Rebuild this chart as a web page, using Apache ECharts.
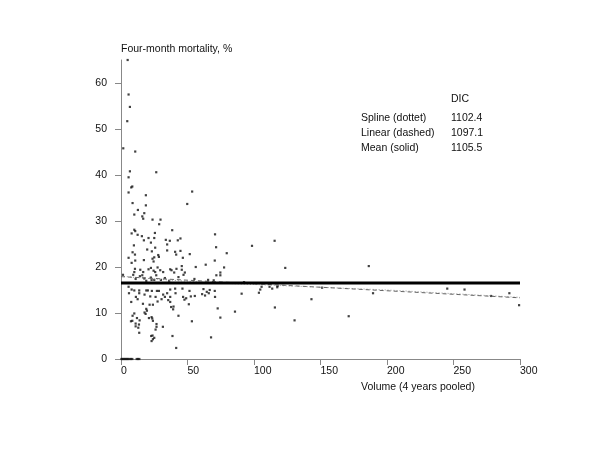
<!DOCTYPE html>
<html>
<head>
<meta charset="utf-8">
<script src="https://cdn.jsdelivr.net/npm/echarts@6/dist/echarts.min.js"></script>
<style>
  html, body { margin: 0; padding: 0; background: #fff; }
  #chart { width: 600px; height: 450px; }
</style>
</head>
<body>
<div id="chart"></div>
<script>
// [volume, mortality %], grouped by area
const pointsHigh = [
  [5, 65.0], [5.7, 57.5], [6.7, 54.8], [4.7, 51.7], [1.7, 45.8], [10.7, 45.1],
  [6.7, 40.8], [26.5, 40.6], [5.7, 39.5], [8.5, 37.5], [7.7, 37.3], [5.7, 36.2],
  [53.5, 36.4], [18.7, 35.6], [49.8, 33.7], [8.7, 33.9], [18.7, 33.4], [12.7, 32.4],
  [17.5, 31.7], [10, 31.4], [16, 31], [16.7, 30.5], [23.7, 30.3], [29.7, 30.3],
  [28.7, 29.3], [38.5, 28], [10, 28.1], [10.7, 27.8], [8, 27.3], [25.5, 27.4],
  [15.7, 26.7], [12.5, 27], [20.7, 26.3], [25, 26.3], [44.7, 26.2], [42.7, 25.8],
  [33.7, 25.9], [36.7, 25.7], [22.5, 25.3], [17.2, 25.8], [9.7, 24.7], [34.7, 24.9],
  [25.7, 24.2], [19.7, 23.8], [23.2, 23.4], [34.7, 23.6], [40.7, 23.3], [41.5, 22.7],
  [8.7, 23.2], [10.5, 22.7], [44.7, 23.5], [51.7, 22.8], [28, 22.6], [28.5, 22.2],
  [25, 22.1], [5.7, 22], [46.5, 22], [23.7, 21.8], [70.7, 27.1], [71.5, 24.3],
  [79.5, 23], [56.2, 20], [63.7, 20.5], [77.5, 19.9], [70.5, 21.4]
];

const pointsMid = [
  [10.7, 21.4], [17.2, 21.5], [24.5, 21.2], [8, 20.9], [10.5, 19.6], [10, 18.9],
  [14.5, 19.4], [16.7, 18.9], [20.7, 19.5], [22.5, 19.8], [24.5, 19.2], [25.7, 18.9],
  [27.5, 19.9], [29.5, 19.3], [31.7, 18.9], [37, 19.5], [38, 19.3], [40, 18.8],
  [41.7, 19.6], [45.7, 19.4], [45.7, 20.2], [48, 18.8], [1.5, 18.3], [9.2, 18.3],
  [14.2, 18], [16, 18.2], [17.5, 17.5], [22.5, 17.7], [25, 17.2], [26.5, 18.2],
  [30, 17.2], [33, 17.6], [36.2, 17], [43.2, 17.8], [47, 18.3], [55.2, 17.4],
  [65.5, 17.2], [11, 17.4], [19, 17], [23, 17.2]
];

const pointsLow = [
  [5.7, 15.7], [8, 15.1], [6, 14.3], [10, 14.9], [13.7, 14.9], [19, 14.9],
  [20.2, 14.9], [23.2, 14.8], [27, 14.8], [28.5, 14.8], [37, 15.1], [40.7, 15.3],
  [46.2, 15.3], [51.5, 14.8], [62, 15.2], [66.7, 15], [66, 14.3], [61, 14.1],
  [55.5, 13.7], [52.5, 13.6], [13.7, 14.3], [11.2, 13.5], [12.5, 13], [17.7, 14],
  [22, 13.6], [26, 13.5], [31.7, 14], [33, 13.5], [34.7, 14.3], [30.5, 13],
  [37, 13.5], [35.5, 12.8], [41, 14.3], [46.7, 13.5], [47.7, 12.9], [49, 13.2],
  [7.7, 12.4], [16.5, 12], [27.5, 12.5], [37, 12.4], [21.5, 11.8], [24, 11.8],
  [51, 11.9], [39.5, 11.4], [19, 10.9], [17.7, 10.1], [37.7, 11.3], [39.2, 10.8],
  [10, 9.9], [18.5, 9.8], [19.5, 10.5], [8.7, 9.4], [43.2, 9.4], [53.3, 8.2],
  [12, 8.9], [21, 8.9], [7.5, 8.2], [8.5, 8.3], [14, 8.4], [23, 9.1],
  [23.5, 8.8], [24, 8.3], [26.7, 7.6], [11, 7.7], [13.5, 7.5], [13, 6.8],
  [26.7, 7], [11, 7.1], [31.5, 7], [26, 6.4], [13.7, 5.7], [23.7, 5.1],
  [22.7, 5], [24, 4.3], [25, 4.6], [23, 3.9], [38.7, 5], [41.5, 2.4], [67.7, 4.7]
];

const pointsRight = [
  [98.5, 24.6], [115.5, 25.7], [123.5, 19.8], [186.3, 20.2], [71.7, 18.2], [74.7, 18.2],
  [74.7, 18.8], [69.7, 17.1], [92.5, 16.7], [64.5, 14.6], [63.2, 13.8], [70.5, 14.8],
  [70.7, 13.5], [72.7, 11], [74.7, 9], [85.7, 10.3], [90.7, 14.2], [103.7, 14.4],
  [104.7, 15.1], [105.7, 15.7], [111.7, 15.7], [113.7, 15.3], [115.7, 11.2], [117.5, 15.6],
  [117.7, 15.9], [130.5, 8.4], [143.2, 13], [151.2, 15.5], [171.2, 9.3], [189.5, 14.3],
  [245.3, 15.3], [258.3, 15.1], [278.3, 13.7], [292, 14.3], [299.3, 11.7]
];

const pointsZero = [
  [0.3, 0], [1, 0], [1.8, 0], [2.5, 0], [3.3, 0], [4, 0], [4.8, 0],
  [5.5, 0], [6.5, 0], [7.5, 0], [8.5, 0], [11.8, 0], [12.8, 0], [13.8, 0]
];

// fitted curves
const lineX = [0, 300];
const meanY = [16.5, 16.5];
const linearY = [17.9, 13.3];
const splineX = [0, 25, 50, 75, 100, 125, 150, 175, 200, 225, 250, 275, 300];
const splineY = [18.0, 17.4, 16.9, 16.5, 16.2, 15.9, 15.6, 15.3, 15.0, 14.6, 14.2, 13.8, 13.4];

const xTicks = [0, 50, 100, 150, 200, 250, 300];
const yTicks = [0, 10, 20, 30, 40, 50, 60];

const legendRows = ['Spline (dottet)', 'Linear (dashed)', 'Mean (solid)'];
const dicValues = ['1102.4', '1097.1', '1105.5'];

const font = '"Liberation Sans", Arial, Helvetica, sans-serif';
const zip = (xs, ys) => xs.map((x, i) => [x, ys[i]]);

const chart = echarts.init(document.getElementById('chart'));

const legendText = [];
legendText.push({
  type: 'text', x: 451, y: 99.5,
  style: { text: 'DIC', fill: '#111', font: '10.5px ' + font, verticalAlign: 'middle' }
});
legendRows.forEach((r, i) => {
  const y = 118 + i * 15;
  legendText.push({
    type: 'text', x: 361, y: y,
    style: { text: r, fill: '#111', font: '10.5px ' + font, verticalAlign: 'middle' }
  });
  legendText.push({
    type: 'text', x: 451, y: y,
    style: { text: dicValues[i], fill: '#111', font: '10.5px ' + font, verticalAlign: 'middle' }
  });
});

const option = {
  backgroundColor: '#fff',
  animation: false,
  grid: { left: 121, right: 80, top: 60, bottom: 91 },
  xAxis: {
    type: 'value',
    min: xTicks[0],
    max: xTicks[xTicks.length - 1],
    interval: 50,
    axisLine: { lineStyle: { color: '#888', width: 1 } },
    axisTick: { length: 6, lineStyle: { color: '#888' } },
    axisLabel: { color: '#111', fontSize: 10.5, fontFamily: font, margin: 7, align: 'left' },
    splitLine: { show: false }
  },
  yAxis: {
    type: 'value',
    min: yTicks[0],
    max: 65,
    interval: 10,
    axisLine: { show: true, lineStyle: { color: '#888', width: 1 } },
    axisTick: { show: true, length: 6, lineStyle: { color: '#888' } },
    axisLabel: { color: '#111', fontSize: 10.5, fontFamily: font, margin: 14, showMaxLabel: false },
    splitLine: { show: false }
  },
  graphic: [
    {
      type: 'text', x: 121, y: 49.5,
      style: { text: 'Four-month mortality, %', fill: '#111', font: '10.5px ' + font, verticalAlign: 'middle' }
    },
    {
      type: 'text', x: 418, y: 387,
      style: { text: 'Volume (4 years pooled)', fill: '#111', font: '10.5px ' + font, align: 'center', verticalAlign: 'middle' }
    }
  ].concat(legendText),
  series: [
    {
      type: 'scatter',
      symbol: 'rect',
      symbolSize: 2.2,
      itemStyle: { color: '#111' },
      data: [].concat(pointsHigh, pointsMid, pointsLow, pointsRight, pointsZero),
      z: 3
    },
    {
      type: 'line',
      data: zip(splineX, splineY),
      smooth: 0.3,
      showSymbol: false,
      lineStyle: { color: '#999', width: 1, type: [1, 2] },
      z: 4
    },
    {
      type: 'line',
      data: zip(lineX, linearY),
      showSymbol: false,
      lineStyle: { color: '#666', width: 1, type: [4, 3] },
      z: 4
    },
    {
      type: 'line',
      data: zip(lineX, meanY),
      showSymbol: false,
      lineStyle: { color: '#000', width: 3 },
      z: 5
    }
  ]
};

chart.setOption(option);
</script>
</body>
</html>
